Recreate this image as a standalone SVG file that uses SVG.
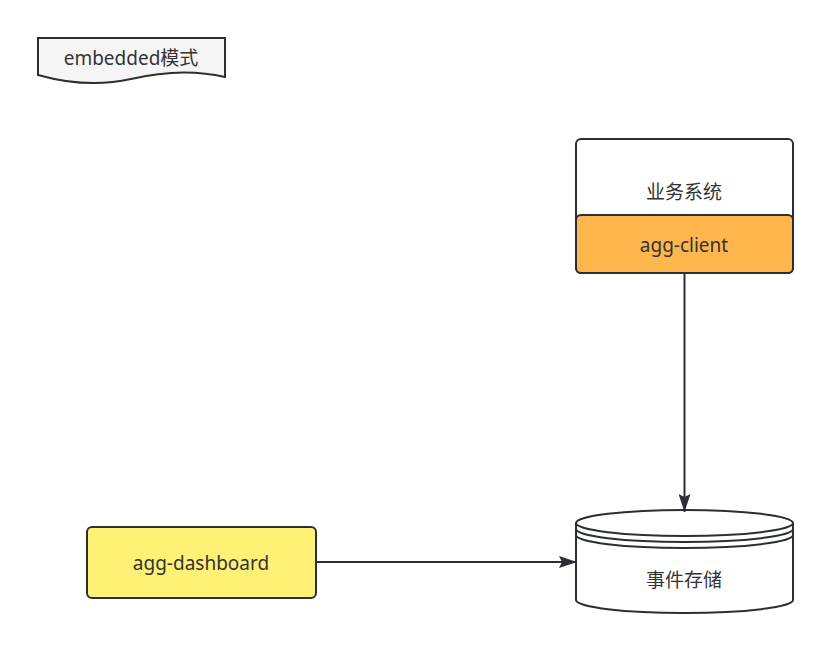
<svg xmlns="http://www.w3.org/2000/svg" width="831" height="653" viewBox="0 0 831 653">
<style>
.s{stroke:#2b2f33;stroke-width:2}
.t{font-family:"Noto Sans","Noto Sans CJK SC",sans-serif;font-size:19px;fill:#333333;text-anchor:middle;dominant-baseline:central}
</style>
<defs>
<marker id="ah" markerWidth="18" markerHeight="12" refX="18" refY="6" orient="auto" markerUnits="userSpaceOnUse" viewBox="0 0 18 12">
<path d="M0,0 L18,6 L0,12 L3,6 Z" fill="#2b2f33"/>
</marker>
</defs>
<rect width="831" height="653" fill="#ffffff"/>
<g id="title">
<path class="s" d="M38,38 H225 V77 C195,70 165,71 131,79 C100,86 70,84 38,75 Z" fill="#f5f5f5"/>
<text class="t" x="131" y="58">embedded模式</text>
</g>
<g id="biz">
<rect class="s" x="576" y="139" width="217" height="134" rx="5" fill="#ffffff"/>
<text class="t" x="684" y="192">业务系统</text>
</g>
<g id="client">
<rect class="s" x="576" y="215" width="217" height="58" rx="5" fill="#ffb64d"/>
<text class="t" x="684" y="245">agg-client</text>
</g>
<g id="store">
<path class="s" d="M576,523 V600 A108.5,13 0 0 0 793,600 V523" fill="#ffffff"/>
<ellipse class="s" cx="684.5" cy="523" rx="108.5" ry="13" fill="#ffffff"/>
<path class="s" d="M576,529 A108.5,13 0 0 0 793,529" fill="none"/>
<path class="s" d="M576,535 A108.5,13 0 0 0 793,535" fill="none"/>
<text class="t" x="684" y="580">事件存储</text>
</g>
<g id="dashboard">
<rect class="s" x="87" y="527" width="229" height="71" rx="5" fill="#fff176"/>
<text class="t" x="201" y="563">agg-dashboard</text>
</g>
<g id="connectors">
<line class="s" x1="684.5" y1="274" x2="684.5" y2="512" marker-end="url(#ah)"/>
<line class="s" x1="317" y1="562" x2="577" y2="562" marker-end="url(#ah)"/>
</g>
</svg>
